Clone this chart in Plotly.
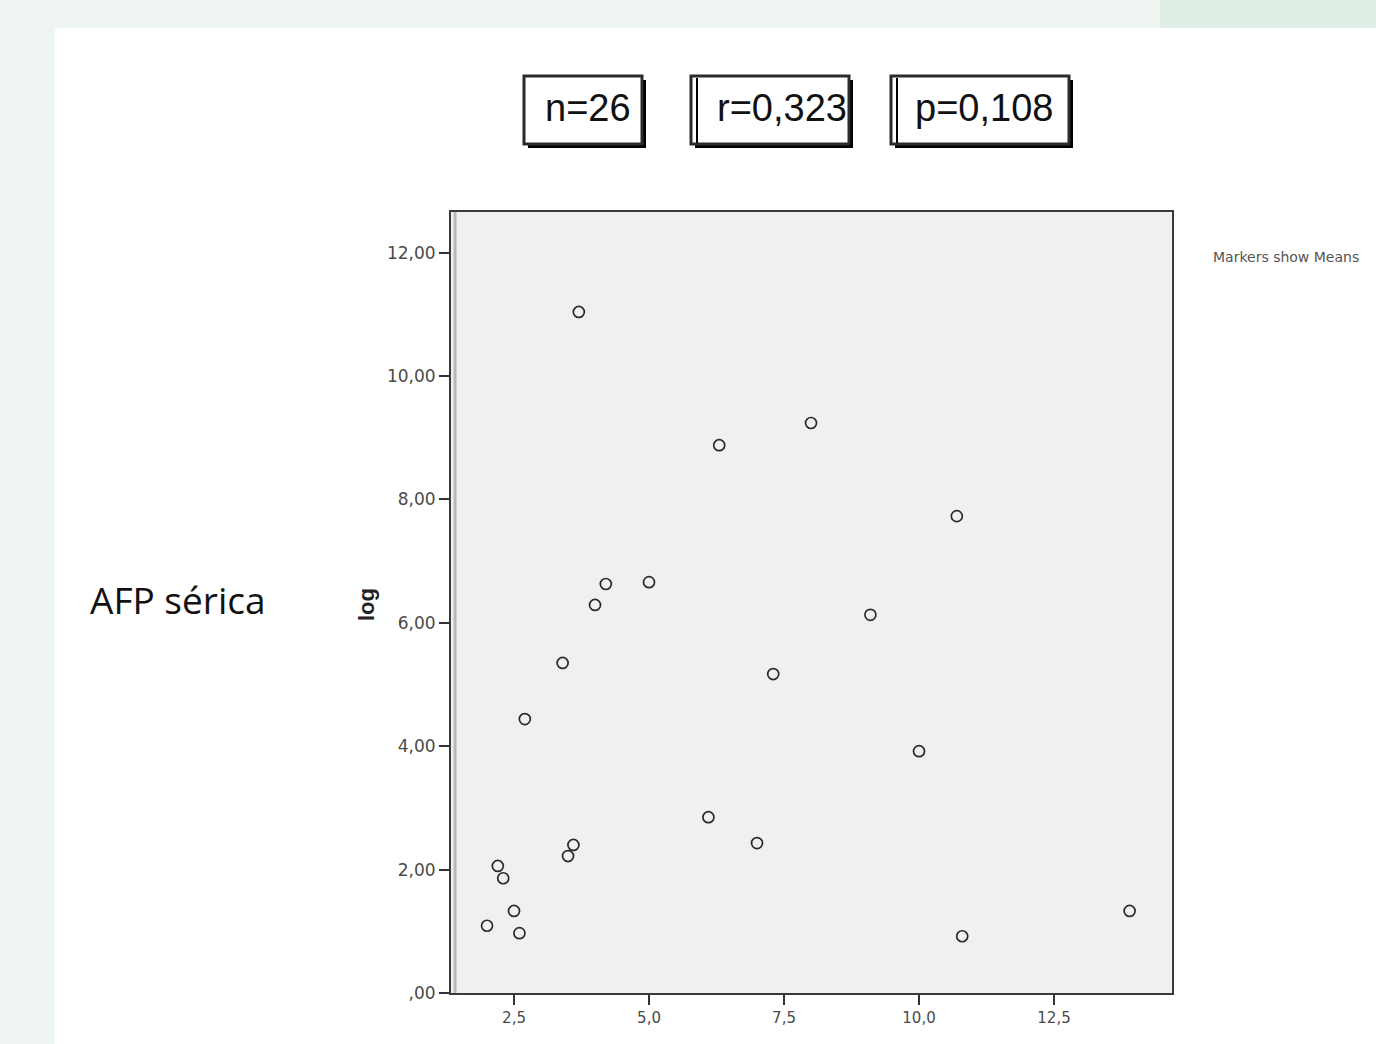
import plotly.graph_objects as go

# Scatter data: tumour measure (x) vs log serum AFP (y)
x_vals = [2.0, 2.2, 2.3, 2.5, 2.6, 2.7, 3.4, 3.5, 3.6, 3.7, 4.0, 4.2, 5.0,
          6.1, 6.3, 7.0, 7.3, 8.0, 9.1, 10.0, 10.7, 10.8, 13.9]
y_vals = [1.09, 2.06, 1.86, 1.33, 0.97, 4.44, 5.35, 2.22, 2.40, 11.04, 6.29, 6.63, 6.66,
          2.85, 8.88, 2.43, 5.17, 9.24, 6.13, 3.92, 7.73, 0.92, 1.33]

y_ticks = [0, 2, 4, 6, 8, 10, 12]
y_tick_labels = [",00", "2,00", "4,00", "6,00", "8,00", "10,00", "12,00"]
x_ticks = [2.5, 5.0, 7.5, 10.0, 12.5]
x_tick_labels = ["2,5", "5,0", "7,5", "10,0", "12,5"]

stat_labels = ["n=26", "r=0,323", "p=0,108"]

W, H = 1376, 1044
L, R, T, B = 451, 204, 212, 51
PW, PH = W - L - R, H - T - B


def px(x):
    return (x - L) / PW


def py(y):
    return (H - B - y) / PH


fig = go.Figure()
fig.add_trace(go.Scatter(
    x=x_vals, y=y_vals, mode="markers",
    marker=dict(symbol="circle-open", size=11, color="#2a2a2a",
                line=dict(width=1.7, color="#2a2a2a")),
    showlegend=False, hoverinfo="x+y",
))

shapes = []
# page bands
shapes.append(dict(type="rect", xref="paper", yref="paper", layer="below",
                   x0=px(0), x1=px(1160), y0=py(0), y1=py(28),
                   fillcolor="#eff5f1", line=dict(width=0)))
shapes.append(dict(type="rect", xref="paper", yref="paper", layer="below",
                   x0=px(1160), x1=px(W), y0=py(0), y1=py(28),
                   fillcolor="#dfefe5", line=dict(width=0)))
shapes.append(dict(type="rect", xref="paper", yref="paper", layer="below",
                   x0=px(0), x1=px(55), y0=py(28), y1=py(H),
                   fillcolor="#eff5f1", line=dict(width=0)))

# light inner strip along the left frame
shapes.append(dict(type="line", xref="paper", yref="paper", layer="above",
                   x0=px(455), x1=px(455), y0=0, y1=1,
                   line=dict(color="#b8b8b8", width=3)))

# statistic boxes
boxes = [(524, 76, 642, 144, False), (691, 76, 849, 144, True), (891, 76, 1069, 144, True)]
for (x0, y0, x1, y1, dbl) in boxes:
    shapes.append(dict(type="rect", xref="paper", yref="paper",
                       x0=px(x0 + 4), x1=px(x1 + 4), y0=py(y0 + 4), y1=py(y1 + 4),
                       fillcolor="#000000", line=dict(width=0)))
    shapes.append(dict(type="rect", xref="paper", yref="paper",
                       x0=px(x0), x1=px(x1), y0=py(y0), y1=py(y1),
                       fillcolor="#ffffff", line=dict(color="#2b2b2b", width=3)))
    if dbl:
        shapes.append(dict(type="line", xref="paper", yref="paper",
                           x0=px(x0 + 6), x1=px(x0 + 6), y0=py(y0 + 2), y1=py(y1 - 1),
                           line=dict(color="#000000", width=2)))

annotations = []
text_pos = [(588, "center"), (715, "left"), (913, "left")]
for lbl, (tx, anc) in zip(stat_labels, text_pos):
    annotations.append(dict(text=lbl, xref="paper", yref="paper", x=px(tx), y=py(108),
                            xanchor=anc, yanchor="middle", showarrow=False,
                            font=dict(family="Liberation Sans, Arial", size=38, color="#111")))

annotations.append(dict(text="<b>log</b>", xref="paper", yref="paper", x=px(366), y=py(605),
                        xanchor="center", yanchor="middle", textangle=-90, showarrow=False,
                        font=dict(family="Liberation Sans, Arial", size=22, color="#222")))
annotations.append(dict(text="AFP sérica", xref="paper", yref="paper", x=px(88), y=py(599),
                        xanchor="left", yanchor="middle", showarrow=False,
                        font=dict(family="Open Sans, Noto Sans", size=37, color="#111")))
annotations.append(dict(text="Markers show Means", xref="paper", yref="paper", x=px(1211), y=py(257),
                        xanchor="left", yanchor="middle", showarrow=False,
                        font=dict(family="DejaVu Sans", size=14, color="#555")))

tick_font = dict(family="DejaVu Sans", size=17, color="#4a4a4a")
fig.update_layout(
    width=W, height=H,
    margin=dict(l=L, r=R, t=T, b=B, pad=0),
    paper_bgcolor="#ffffff", plot_bgcolor="#f0f0f0",
    shapes=shapes, annotations=annotations,
    xaxis=dict(range=[1.333, 14.685], tickvals=x_ticks, ticktext=x_tick_labels,
               showgrid=False, zeroline=False, showline=True, mirror=True,
               linecolor="#3a3a3a", linewidth=2, ticks="outside", ticklen=10,
               tickwidth=2, tickcolor="#333",
               tickfont=dict(family="DejaVu Sans", size=15, color="#4a4a4a")),
    yaxis=dict(range=[0, 12.66], tickvals=y_ticks, ticktext=y_tick_labels,
               showgrid=False, zeroline=False, showline=True, mirror=True,
               linecolor="#3a3a3a", linewidth=2, ticks="outside", ticklen=10,
               tickwidth=2, tickcolor="#333", tickfont=tick_font),
)

fig.write_html("out.html")
